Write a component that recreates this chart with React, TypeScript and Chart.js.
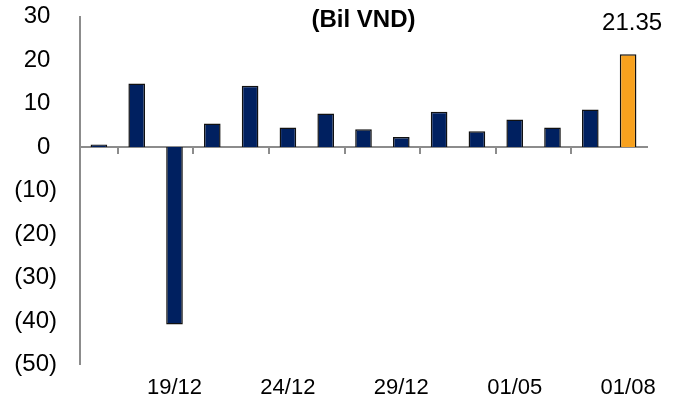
import React, { useEffect, useRef } from "react";
import { Chart, registerables } from "chart.js";

Chart.register(...registerables);

const categories = ["17/12", "18/12", "19/12", "22/12", "23/12", "24/12", "25/12", "26/12", "29/12", "30/12", "31/12", "01/05", "01/06", "01/07", "01/08"];
const netValues = [0.6, 14.6, -40.8, 5.4, 14.1, 4.5, 7.7, 4.1, 2.3, 8.1, 3.6, 6.3, 4.5, 8.6, 21.35];
const titleText = "(Bil VND)";
const yMin = -50;
const yMax = 30;
const yStep = 10;

const NAVY = "#002060";
const ORANGE = "#F7A11E";
const AXIS_GRAY = "#8C8C8C";
const FONT = "'Liberation Sans', Arial, sans-serif";

const overlayPlugin = {
  id: "overlay",
  afterDatasetsDraw(chart: any) {
    const { ctx, chartArea } = chart;
    ctx.save();
    ctx.fillStyle = "#000";
    ctx.font = `bold 24px ${FONT}`;
    ctx.textAlign = "center";
    ctx.textBaseline = "alphabetic";
    ctx.fillText(titleText, (chartArea.left + chartArea.right) / 2, chartArea.top + 10);
    const meta = chart.getDatasetMeta(0);
    const last = meta.data[meta.data.length - 1];
    const v = netValues[netValues.length - 1];
    ctx.font = `24px ${FONT}`;
    ctx.fillText(v.toFixed(2), last.x + 4, last.y - 24);
    ctx.restore();
  },
};

export default function App() {
  const ref = useRef<HTMLCanvasElement | null>(null);
  useEffect(() => {
    if (!ref.current) return;
    const colors = netValues.map((_, i) => (i === netValues.length - 1 ? ORANGE : NAVY));
    const chart = new Chart(ref.current, {
      type: "bar",
      data: {
        labels: categories,
        datasets: [
          {
            data: netValues,
            backgroundColor: colors,
            borderColor: "#111111",
            borderWidth: 1.5,
            barPercentage: 0.44,
            categoryPercentage: 1,
            xAxisID: "x",
            yAxisID: "y",
          },
        ],
      },
      options: {
        animation: false,
        responsive: true,
        maintainAspectRatio: false,
        devicePixelRatio: 1,
        layout: { padding: { left: 0, top: 16.5, right: 33, bottom: 0 } },
        plugins: {
          legend: { display: false },
          tooltip: { enabled: false },
          title: { display: false },
        },
        scales: {
          x: {
            type: "category",
            position: "bottom",
            offset: true,
            grid: { display: false, drawTicks: false, offset: true },
            border: { display: false },
            ticks: {
              autoSkip: false,
              maxRotation: 0,
              padding: 10,
              color: "#000",
              font: { family: FONT, size: 22 },
              callback: (_v: any, i: number) => (i % 3 === 2 ? categories[i] : ""),
            },
            afterFit: (s: any) => {
              s.height = 44.5;
              s.paddingLeft = 0;
              s.paddingRight = 0;
            },
          },
          x2: {
            type: "category",
            axis: "x",
            position: { y: 0 },
            offset: true,
            grid: {
              display: true,
              drawOnChartArea: false,
              drawTicks: true,
              tickLength: 6,
              offset: true,
              lineWidth: 2,
              color: (ctx: any) => (ctx.index % 2 === 1 ? AXIS_GRAY : "rgba(0,0,0,0)"),
            },
            border: { display: true, color: AXIS_GRAY, width: 2 },
            ticks: { display: false },
          },
          y: {
            type: "linear",
            min: yMin,
            max: yMax,
            grid: { display: false, drawTicks: false },
            border: { display: true, color: AXIS_GRAY, width: 2 },
            ticks: {
              stepSize: yStep,
              padding: 23,
              color: "#000",
              font: { family: FONT, size: 24 },
              callback: (v: any) => (Number(v) < 0 ? `(${Math.abs(Number(v))})` : `${v} `),
            },
            afterFit: (s: any) => {
              s.width = 80;
              s.paddingTop = 0;
              s.paddingBottom = 0;
            },
          },
        },
      },
      plugins: [overlayPlugin],
    } as any);
    return () => chart.destroy();
  }, []);
  return (
    <div style={{ position: "fixed", left: 0, top: 0, width: 680, height: 409, background: "#fff" }}>
      <canvas ref={ref} />
    </div>
  );
}
